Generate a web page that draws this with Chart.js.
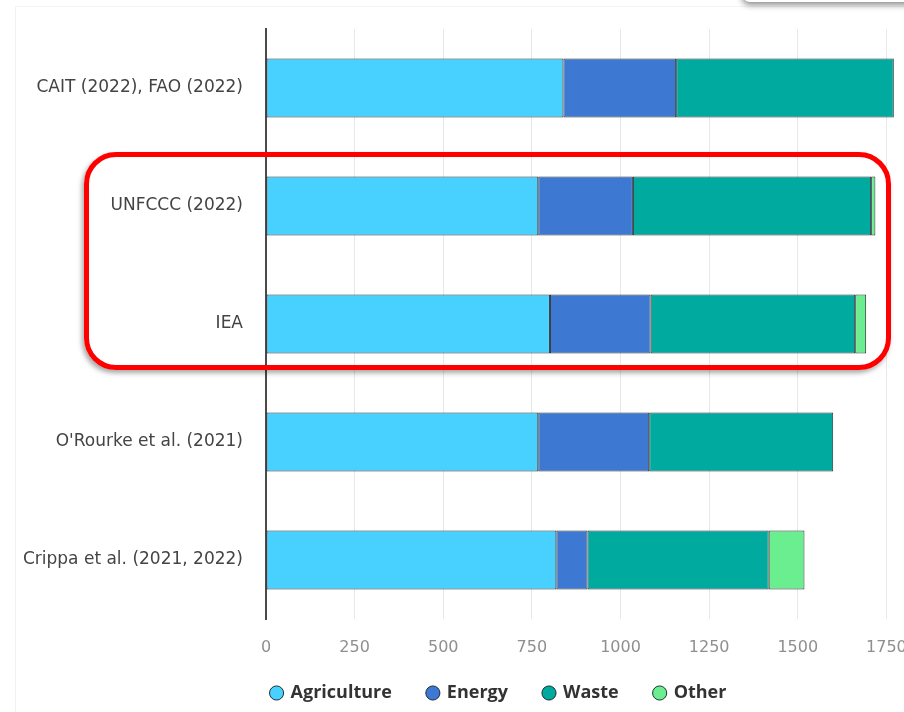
<!DOCTYPE html>
<html>
<head>
<meta charset="utf-8">
<script src="https://cdn.jsdelivr.net/npm/chart.js@4.4.1/dist/chart.umd.min.js"></script>
<style>
  html, body { margin: 0; padding: 0; width: 904px; height: 712px; overflow: hidden; background: #fff; position: relative; }
  #card { position: absolute; left: 15px; top: 6px; width: 1000px; height: 800px; border-left: 1px solid #f1f1f1; border-top: 1px solid #f4f4f4; }
  #wrap { position: absolute; left: 15px; top: 0; width: 968px; height: 712px; }
  #topshadow { position: absolute; left: 742px; top: -30px; width: 220px; height: 32px; background: #fff; border-radius: 8px; box-shadow: 0 3px 6px rgba(0,0,0,0.45); }
  #redbox { position: absolute; left: 84px; top: 152px; width: 797px; height: 208px; border: 5px solid #ff0000; border-radius: 32px; box-shadow: -2px 3px 5px rgba(0,0,0,0.35); pointer-events: none; }
</style>
</head>
<body>
<div id="card"></div>
<div id="wrap"><canvas id="c"></canvas></div>
<div id="topshadow"></div>
<div id="redbox"></div>
<script>
const categories = ["CAIT (2022), FAO (2022)", "UNFCCC (2022)", "IEA", "O'Rourke et al. (2021)", "Crippa et al. (2021, 2022)"];
const agriculture = [839, 768, 801, 768, 819];
const energy = [318, 267, 284, 313, 88];
const waste = [614, 672, 577, 519, 511];
const other = [null, 12, 31, null, 101];
const seriesNames = ["Agriculture", "Energy", "Waste", "Other"];
const xTicks = [0, 250, 500, 750, 1000, 1250, 1500, 1750];

const colors = ["#48d1ff", "#3d78d3", "#00aa9f", "#6aee90"];
const borderCol = "rgba(20,30,35,0.9)";
const seriesData = [agriculture, energy, waste, other];

const datasets = seriesNames.map((name, i) => ({
  label: name,
  data: seriesData[i],
  backgroundColor: colors[i],
  borderColor: borderCol,
  borderWidth: 1,
  borderSkipped: false,
  barPercentage: 0.5,
  categoryPercentage: 1.0
}));

const AXFONT = "'DejaVu Sans', sans-serif";
const LEGFONT = "'Open Sans', 'Noto Sans', sans-serif";

// let x tick labels extend below the compact axis box without being clipped
const unclipXLabels = {
  id: 'unclipXLabels',
  afterLayout(chart) {
    const sx = chart.scales.x;
    sx.bottom = sx.top + 60;
  }
};

new Chart(document.getElementById('c'), {
  type: 'bar',
  data: { labels: categories, datasets },
  plugins: [unclipXLabels],
  options: {
    indexAxis: 'y',
    responsive: true,
    maintainAspectRatio: false,
    animation: false,
    layout: { padding: { top: 29, left: 8, right: 8, bottom: 0 } },
    plugins: {
      tooltip: { enabled: false },
      legend: {
        position: 'bottom',
        labels: {
          usePointStyle: true,
          pointStyle: 'circle',
          boxWidth: 10,
          boxHeight: 10,
          padding: 36,
          color: '#333333',
          font: { family: LEGFONT, size: 18, weight: 'bold' }
        }
      }
    },
    scales: {
      x: {
        stacked: true,
        min: 0,
        max: 2000,
        afterBuildTicks: (scale) => { scale.ticks = xTicks.concat([2000]).map(v => ({ value: v })); },
        afterFit: (scale) => { scale.height = 29; scale.paddingLeft = 0; scale.paddingRight = 0; },
        ticks: {
          color: '#8f8f8f',
          padding: 19,
          font: { family: AXFONT, size: 16 },
          callback: (v) => (xTicks.includes(v) ? String(v) : '')
        },
        grid: { color: '#e8e8e8', lineWidth: 1, drawTicks: false },
        border: { display: false }
      },
      y: {
        stacked: true,
        afterFit: (scale) => { scale.width = 243; scale.paddingTop = 0; scale.paddingBottom = 0; },
        ticks: {
          color: '#444444',
          padding: 23,
          font: { family: AXFONT, size: 17 }
        },
        grid: { display: false, drawTicks: false },
        border: { display: true, color: '#4a4a4a', width: 2 }
      }
    }
  }
});
</script>
</body>
</html>
